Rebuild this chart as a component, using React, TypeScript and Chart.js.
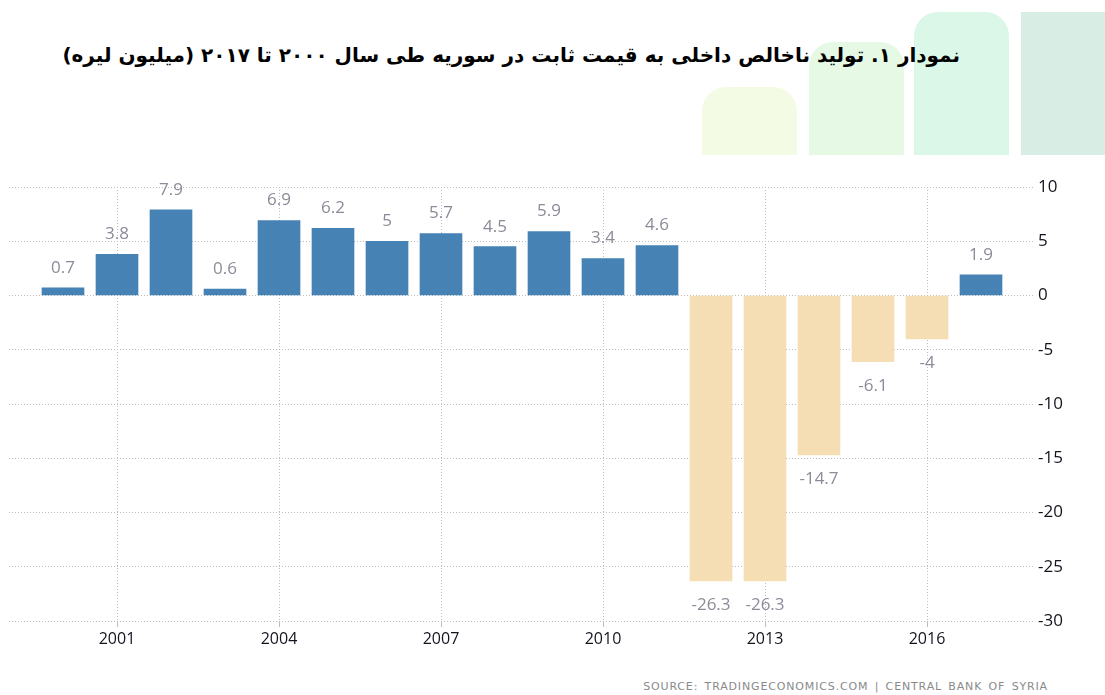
import React, { useEffect, useRef } from "react";
import { Chart, registerables } from "chart.js";

Chart.register(...registerables);

const years: number[] = [2000, 2001, 2002, 2003, 2004, 2005, 2006, 2007, 2008, 2009, 2010, 2011, 2012, 2013, 2014, 2015, 2016, 2017];
const values: number[] = [0.7, 3.8, 7.9, 0.6, 6.9, 6.2, 5, 5.7, 4.5, 5.9, 3.4, 4.6, -26.3, -26.3, -14.7, -6.1, -4, 1.9];
const xTickYears: number[] = [2001, 2004, 2007, 2010, 2013, 2016];

const TITLE = "نمودار ۱. تولید ناخالص داخلی به قیمت ثابت در سوریه طی سال ۲۰۰۰ تا ۲۰۱۷ (میلیون لیره)";
const SOURCE = "SOURCE: TRADINGECONOMICS.COM | CENTRAL BANK OF SYRIA";

const POS_COLOR = "#4682b4";
const NEG_COLOR = "#f5deb3";
const GRID_COLOR = "#bdbdbd";

const valueLabelPlugin = {
  id: "valueLabels",
  afterDatasetsDraw(chart: any) {
    const ctx = chart.ctx;
    const meta = chart.getDatasetMeta(0);
    ctx.save();
    ctx.font = "17px 'Open Sans'";
    ctx.fillStyle = "#8b8b99";
    ctx.textAlign = "center";
    ctx.textBaseline = "middle";
    meta.data.forEach((el: any, i: number) => {
      const v = values[i];
      const y = v >= 0 ? el.y - 20 : el.y + 24;
      ctx.fillText(String(v), el.x, y);
    });
    ctx.restore();
  },
};

export default function App() {
  const canvasRef = useRef<HTMLCanvasElement | null>(null);

  useEffect(() => {
    if (!canvasRef.current) return;
    const chart = new Chart(canvasRef.current, {
      type: "bar",
      data: {
        datasets: [
          {
            data: years.map((yr, i) => ({ x: yr, y: values[i] })),
            backgroundColor: values.map((v) => (v >= 0 ? POS_COLOR : NEG_COLOR)),
            borderWidth: 0,
            barThickness: 42,
          } as any,
        ],
      },
      plugins: [valueLabelPlugin],
      options: {
        animation: false,
        responsive: false,
        maintainAspectRatio: false,
        layout: { padding: { top: 37, left: 9, right: 0, bottom: 0 } },
        plugins: {
          legend: { display: false },
          tooltip: { enabled: false },
          title: { display: false },
        },
        scales: {
          x: {
            type: "linear",
            min: 1999,
            max: 2018,
            offset: false,
            afterBuildTicks: (scale: any) => {
              scale.ticks = xTickYears.map((v) => ({ value: v }));
            },
            afterFit: (scale: any) => {
              scale.height = 49;
            },
            grid: {
              offset: false,
              color: GRID_COLOR,
              lineWidth: 1,
              tickLength: 6,
              drawTicks: true,
            },
            border: { display: false, dash: [1, 2] },
            ticks: {
              autoSkip: false,
              maxRotation: 0,
              padding: 3,
              color: "#14141f",
              font: { family: "'Open Sans'", size: 16 },
              callback: (v: any) => String(v),
            },
          } as any,
          y: {
            position: "right",
            min: -30,
            max: 10,
            afterBuildTicks: (scale: any) => {
              const t = [];
              for (let v = -30; v <= 10; v += 5) t.push({ value: v });
              scale.ticks = t;
            },
            afterFit: (scale: any) => {
              scale.width = 70;
            },
            grid: {
              color: GRID_COLOR,
              lineWidth: 1,
              drawTicks: false,
            },
            border: { display: false, dash: [1, 2] },
            ticks: {
              padding: 3,
              color: "#14141f",
              font: { family: "'Open Sans'", size: 17 },
              callback: (v: any) => String(v),
            },
          } as any,
        },
      },
    });
    return () => chart.destroy();
  }, []);

  const deco = (left: number, top: number, width: number, height: number, bg: string, radius: string) => (
    <div
      style={{
        position: "absolute",
        left,
        top,
        width,
        height,
        background: bg,
        borderRadius: radius,
      }}
    />
  );

  return (
    <div
      style={{
        position: "fixed",
        left: 0,
        top: 0,
        width: 1105,
        height: 695,
        background: "#ffffff",
        overflow: "hidden",
      }}
    >
      {deco(702, 87, 95, 68, "#f4fbe5", "24px 24px 0 0")}
      {deco(809, 42, 95, 113, "#e5f9e5", "24px 24px 0 0")}
      {deco(914, 12, 95, 143, "#dbf7e8", "24px 24px 0 0")}
      {deco(1021, 12, 84, 143, "#d8ede3", "0")}
      <div
        dir="rtl"
        style={{
          position: "absolute",
          right: 145,
          top: 39,
          whiteSpace: "nowrap",
          fontFamily: "'DejaVu Sans', sans-serif",
          fontWeight: "bold",
          fontSize: 20,
          lineHeight: "32px",
          color: "#000",
        }}
      >
        {TITLE}
      </div>
      <div style={{ position: "absolute", left: 0, top: 150, width: 1105, height: 520 }}>
        <canvas ref={canvasRef} width={1105} height={520} style={{ display: "block" }} />
      </div>
      <div
        style={{
          position: "absolute",
          right: 57,
          top: 680,
          whiteSpace: "nowrap",
          fontFamily: "'DejaVu Sans', sans-serif",
          fontSize: 11,
          letterSpacing: "0.85px",
          wordSpacing: "2px",
          color: "#8a8a8a",
        }}
      >
        {SOURCE}
      </div>
    </div>
  );
}
